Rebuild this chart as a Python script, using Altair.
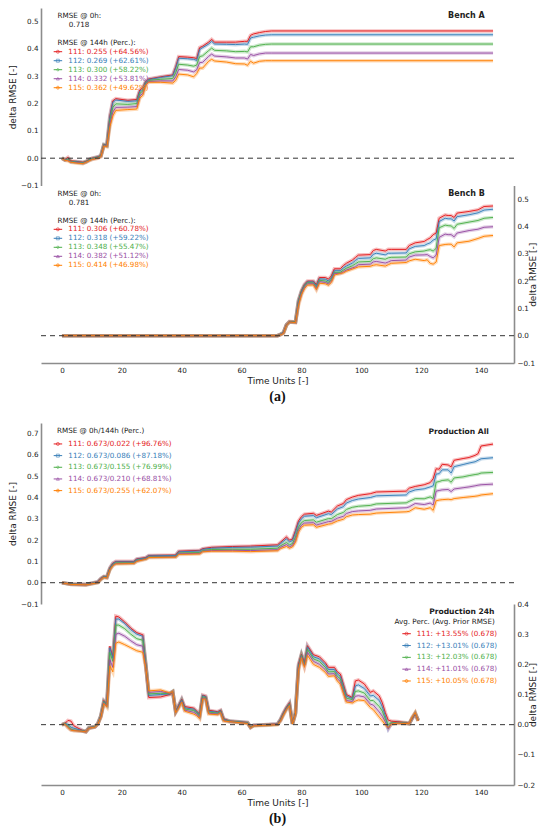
import altair as alt
import pandas as pd

# ---------------- data ----------------
series_ids = ["111", "112", "113", "114", "115"]
series_colors = ["#e41a1c", "#377eb8", "#4daf4a", "#984ea3", "#ff7f00"]
series_shapes = ["circle", "square", "diamond", "triangle-up", "cross"]

# Bench A
bench_a_t = [0, 1, 2, 3, 5, 7, 8, 9, 10, 12, 13, 14, 15, 16, 17, 18, 22, 25, 26, 27,
             28, 29, 33, 37, 38, 39, 42, 44, 45, 46, 47, 49, 50, 51, 55, 58, 61, 62, 63, 64,
             66, 68, 70, 144]
bench_a_111 = [0.0, -0.005, 0.003, -0.01, -0.012, -0.015, -0.012, -0.005, 0.0, 0.005,
               0.01, 0.05, 0.048, 0.155, 0.21, 0.218, 0.212, 0.215, 0.25, 0.258,
               0.282, 0.29, 0.298, 0.305, 0.335, 0.372, 0.37, 0.368, 0.365, 0.405,
               0.41, 0.425, 0.435, 0.425, 0.425, 0.425, 0.428, 0.428, 0.45, 0.455,
               0.46, 0.464, 0.466, 0.466]
bench_a_112 = [0.0, -0.006, -0.002, -0.012, -0.013, -0.016, -0.013, -0.006, -0.001, 0.004,
               0.009, 0.05, 0.047, 0.15, 0.205, 0.213, 0.208, 0.21, 0.245, 0.254,
               0.28, 0.288, 0.296, 0.302, 0.33, 0.366, 0.364, 0.362, 0.358, 0.398,
               0.405, 0.418, 0.428, 0.418, 0.417, 0.416, 0.418, 0.417, 0.44, 0.443,
               0.448, 0.451, 0.452, 0.452]
bench_a_113 = [0.0, -0.006, -0.003, -0.012, -0.015, -0.017, -0.013, -0.007, -0.002, 0.003,
               0.008, 0.048, 0.045, 0.137, 0.186, 0.199, 0.197, 0.2, 0.237, 0.246,
               0.276, 0.285, 0.289, 0.292, 0.313, 0.344, 0.341, 0.337, 0.341, 0.372,
               0.375, 0.394, 0.403, 0.395, 0.393, 0.39, 0.391, 0.389, 0.408, 0.408,
               0.414, 0.417, 0.418, 0.418]
bench_a_114 = [0.0, -0.007, -0.007, -0.014, -0.016, -0.019, -0.014, -0.009, -0.004, 0.001,
               0.006, 0.046, 0.044, 0.125, 0.169, 0.186, 0.187, 0.189, 0.228, 0.237,
               0.272, 0.281, 0.283, 0.283, 0.298, 0.325, 0.322, 0.316, 0.324, 0.35,
               0.351, 0.373, 0.381, 0.374, 0.371, 0.367, 0.367, 0.363, 0.38, 0.376,
               0.382, 0.385, 0.385, 0.385]
bench_a_115 = [0.0, -0.008, -0.01, -0.015, -0.018, -0.02, -0.015, -0.01, -0.005, 0.0,
               0.005, 0.045, 0.042, 0.115, 0.155, 0.175, 0.178, 0.18, 0.22, 0.23,
               0.268, 0.278, 0.278, 0.275, 0.285, 0.308, 0.305, 0.298, 0.31, 0.33,
               0.33, 0.355, 0.362, 0.356, 0.352, 0.346, 0.345, 0.34, 0.355, 0.348,
               0.355, 0.357, 0.357, 0.357]

# Bench B
bench_b_t = [0, 72, 73, 74, 75, 76, 78, 79, 80, 81, 82, 84, 85, 86, 88, 89, 90, 91, 93, 94,
             95, 97, 98, 99, 103, 104, 105, 108, 109, 110, 115, 116, 118, 121, 122, 123, 124, 125, 126, 128,
             129, 130, 131, 132, 136, 139, 141, 144]
bench_b_111 = [0.0, 0.0, 0.005, 0.012, 0.04, 0.052, 0.05, 0.13, 0.165, 0.188,
               0.2, 0.2, 0.187, 0.213, 0.213, 0.207, 0.219, 0.245, 0.245, 0.257,
               0.265, 0.277, 0.286, 0.295, 0.297, 0.312, 0.316, 0.31, 0.316, 0.316,
               0.316, 0.33, 0.34, 0.345, 0.352, 0.358, 0.37, 0.376, 0.43, 0.442,
               0.44, 0.44, 0.433, 0.449, 0.455, 0.461, 0.473, 0.475]
bench_b_112 = [0.0, 0.0, 0.005, 0.012, 0.04, 0.051, 0.05, 0.128, 0.162, 0.185,
               0.197, 0.197, 0.183, 0.208, 0.207, 0.2, 0.212, 0.238, 0.238, 0.248,
               0.255, 0.266, 0.275, 0.283, 0.285, 0.298, 0.302, 0.296, 0.302, 0.302,
               0.303, 0.318, 0.327, 0.33, 0.336, 0.34, 0.35, 0.355, 0.418, 0.43,
               0.428, 0.428, 0.42, 0.436, 0.443, 0.45, 0.46, 0.463]
bench_b_113 = [0.0, 0.0, 0.005, 0.011, 0.04, 0.05, 0.05, 0.125, 0.16, 0.182,
               0.194, 0.193, 0.178, 0.203, 0.2, 0.195, 0.206, 0.232, 0.232, 0.24,
               0.247, 0.256, 0.263, 0.27, 0.272, 0.282, 0.285, 0.28, 0.285, 0.287,
               0.288, 0.3, 0.307, 0.31, 0.313, 0.315, 0.31, 0.32, 0.395, 0.405,
               0.403, 0.402, 0.393, 0.408, 0.416, 0.422, 0.43, 0.433]
bench_b_114 = [0.0, 0.0, 0.004, 0.01, 0.04, 0.05, 0.048, 0.118, 0.155, 0.178,
               0.19, 0.19, 0.173, 0.198, 0.195, 0.19, 0.2, 0.228, 0.228, 0.234,
               0.24, 0.248, 0.252, 0.26, 0.262, 0.27, 0.272, 0.266, 0.27, 0.275,
               0.277, 0.288, 0.295, 0.296, 0.297, 0.29, 0.285, 0.295, 0.36, 0.372,
               0.37, 0.37, 0.362, 0.376, 0.385, 0.39, 0.397, 0.399]
bench_b_115 = [0.0, 0.0, 0.003, 0.008, 0.038, 0.05, 0.048, 0.11, 0.15, 0.172,
               0.185, 0.186, 0.168, 0.192, 0.19, 0.185, 0.195, 0.222, 0.228, 0.23,
               0.236, 0.244, 0.248, 0.252, 0.254, 0.258, 0.26, 0.255, 0.26, 0.265,
               0.268, 0.274, 0.28, 0.275, 0.278, 0.265, 0.262, 0.27, 0.33, 0.334,
               0.335, 0.335, 0.325, 0.34, 0.346, 0.356, 0.364, 0.367]

# Production All
prod_all_t = [0, 3, 8, 12, 13, 14, 15, 16, 17, 18,
              24, 25, 28, 29, 38, 39, 46, 47, 50, 57,
              63, 72, 73, 75, 76, 77, 78, 79, 80, 81,
              84, 85, 89, 90, 92, 94, 95, 97, 99, 103,
              105, 115, 116, 118, 121, 123, 124, 125, 126, 127,
              129, 130, 131, 134, 136, 138, 139, 140, 144]
prod_all_111 = [0.0, -0.006, -0.008, 0.005, 0.02, 0.03, 0.028, 0.07, 0.092, 0.1,
                0.1, 0.112, 0.118, 0.128, 0.13, 0.148, 0.152, 0.16, 0.166, 0.17,
                0.172, 0.178, 0.19, 0.215, 0.2, 0.205, 0.245, 0.29, 0.31, 0.322,
                0.326, 0.316, 0.336, 0.332, 0.36, 0.372, 0.39, 0.402, 0.41, 0.418,
                0.426, 0.43, 0.444, 0.452, 0.46, 0.47, 0.488, 0.535, 0.533, 0.556,
                0.553, 0.544, 0.575, 0.583, 0.588, 0.598, 0.606, 0.642, 0.651]
prod_all_112 = [0.0, -0.006, -0.008, 0.004, 0.019, 0.029, 0.027, 0.068, 0.09, 0.098,
                0.098, 0.11, 0.116, 0.126, 0.128, 0.145, 0.149, 0.157, 0.162, 0.166,
                0.167, 0.172, 0.184, 0.206, 0.192, 0.198, 0.236, 0.28, 0.3, 0.312,
                0.315, 0.305, 0.324, 0.32, 0.346, 0.357, 0.374, 0.386, 0.393, 0.4,
                0.408, 0.412, 0.426, 0.436, 0.441, 0.45, 0.455, 0.51, 0.512, 0.53,
                0.53, 0.515, 0.545, 0.555, 0.562, 0.568, 0.575, 0.582, 0.587]
prod_all_113 = [0.0, -0.007, -0.009, 0.002, 0.017, 0.027, 0.025, 0.064, 0.085, 0.093,
                0.094, 0.105, 0.113, 0.122, 0.124, 0.139, 0.142, 0.151, 0.156, 0.157,
                0.157, 0.162, 0.173, 0.189, 0.178, 0.184, 0.214, 0.26, 0.282, 0.292,
                0.295, 0.284, 0.301, 0.301, 0.32, 0.33, 0.344, 0.354, 0.359, 0.363,
                0.37, 0.375, 0.382, 0.395, 0.394, 0.403, 0.395, 0.472, 0.475, 0.48,
                0.483, 0.472, 0.492, 0.497, 0.503, 0.508, 0.51, 0.515, 0.518]
prod_all_114 = [0.0, -0.008, -0.01, 0.001, 0.016, 0.026, 0.023, 0.062, 0.082, 0.09,
                0.092, 0.102, 0.112, 0.12, 0.122, 0.136, 0.138, 0.148, 0.151, 0.152,
                0.151, 0.155, 0.166, 0.179, 0.169, 0.175, 0.2, 0.248, 0.27, 0.28,
                0.282, 0.271, 0.287, 0.288, 0.303, 0.312, 0.325, 0.334, 0.337, 0.34,
                0.346, 0.352, 0.356, 0.372, 0.367, 0.374, 0.365, 0.43, 0.433, 0.436,
                0.438, 0.428, 0.44, 0.446, 0.45, 0.455, 0.458, 0.46, 0.463]
prod_all_115 = [0.0, -0.008, -0.01, 0.0, 0.015, 0.025, 0.022, 0.06, 0.08, 0.088,
                0.09, 0.1, 0.11, 0.118, 0.12, 0.133, 0.135, 0.145, 0.148, 0.148,
                0.146, 0.15, 0.16, 0.17, 0.162, 0.168, 0.19, 0.238, 0.26, 0.27,
                0.272, 0.26, 0.275, 0.277, 0.29, 0.298, 0.31, 0.318, 0.32, 0.322,
                0.327, 0.333, 0.335, 0.352, 0.345, 0.352, 0.34, 0.385, 0.388, 0.39,
                0.392, 0.39, 0.395, 0.4, 0.403, 0.406, 0.408, 0.412, 0.418]

# Production 24h
prod_24_t = [0, 1, 2, 3, 4, 7, 8, 9, 11, 12,
             13, 14, 15, 16, 17, 18, 19, 21, 23, 25,
             27, 28, 29, 33, 36, 37, 38, 39, 40, 41,
             44, 45, 46, 47, 48, 49, 52, 53, 54, 56,
             62, 63, 64, 72, 73, 74, 75, 76, 77, 78,
             79, 80, 81, 82, 84, 86, 88, 89, 91, 92,
             93, 95, 97, 98, 99, 101, 103, 104, 106, 107,
             108, 109, 110, 112, 115, 116, 117, 118, 119]
prod_24_111 = [0.0, 0.004, 0.014, 0.012, -0.004, -0.02, -0.022, -0.01, -0.006, 0.004,
               0.03, 0.08, 0.07, 0.26, 0.225, 0.36, 0.357, 0.34, 0.32, 0.305,
               0.298, 0.2, 0.09, 0.092, 0.1, 0.108, 0.045, 0.065, 0.085, 0.06,
               0.055, 0.045, 0.035, 0.098, 0.095, 0.048, 0.043, 0.048, 0.02, 0.012,
               0.007, -0.008, -0.002, 0.002, 0.018, 0.04, 0.058, 0.073, 0.003, 0.04,
               0.2, 0.234, 0.205, 0.262, 0.232, 0.225, 0.205, 0.19, 0.19, 0.175,
               0.168, 0.1, 0.09, 0.145, 0.148, 0.135, 0.107, 0.112, 0.095, 0.073,
               0.04, 0.015, 0.012, 0.01, 0.006, 0.004, 0.02, 0.035, 0.015]
prod_24_112 = [0.0, 0.004, 0.0, -0.008, -0.012, -0.02, -0.023, -0.01, -0.006, 0.004,
               0.03, 0.078, 0.068, 0.255, 0.22, 0.35, 0.35, 0.335, 0.315, 0.3,
               0.293, 0.2, 0.097, 0.1, 0.102, 0.109, 0.044, 0.063, 0.083, 0.056,
               0.051, 0.043, 0.032, 0.096, 0.093, 0.045, 0.041, 0.046, 0.018, 0.012,
               0.007, -0.008, -0.002, 0.002, 0.017, 0.038, 0.056, 0.07, 0.003, 0.04,
               0.195, 0.232, 0.2, 0.258, 0.225, 0.218, 0.198, 0.183, 0.183, 0.168,
               0.16, 0.095, 0.087, 0.128, 0.132, 0.12, 0.095, 0.097, 0.08, 0.06,
               0.03, -0.012, 0.005, 0.008, 0.005, 0.003, 0.021, 0.036, 0.015]
prod_24_113 = [0.0, 0.003, -0.005, -0.015, -0.018, -0.021, -0.023, -0.011, -0.007, 0.003,
               0.028, 0.076, 0.065, 0.24, 0.21, 0.33, 0.33, 0.318, 0.3, 0.285,
               0.28, 0.2, 0.102, 0.104, 0.103, 0.11, 0.043, 0.06, 0.08, 0.052,
               0.047, 0.04, 0.028, 0.092, 0.09, 0.042, 0.038, 0.044, 0.016, 0.011,
               0.006, -0.009, -0.003, 0.001, 0.015, 0.036, 0.054, 0.068, 0.002, 0.038,
               0.19, 0.23, 0.198, 0.25, 0.218, 0.21, 0.19, 0.175, 0.176, 0.16,
               0.152, 0.088, 0.083, 0.11, 0.112, 0.105, 0.08, 0.08, 0.06, 0.045,
               0.02, 0.0, 0.006, 0.007, 0.005, 0.003, 0.022, 0.038, 0.014]
prod_24_114 = [0.0, 0.002, -0.008, -0.017, -0.019, -0.022, -0.024, -0.012, -0.008, 0.002,
               0.026, 0.073, 0.062, 0.215, 0.19, 0.3, 0.303, 0.293, 0.278, 0.265,
               0.26, 0.195, 0.107, 0.11, 0.104, 0.11, 0.041, 0.058, 0.078, 0.048,
               0.041, 0.035, 0.024, 0.088, 0.087, 0.038, 0.035, 0.042, 0.014, 0.01,
               0.005, -0.01, -0.003, 0.001, 0.013, 0.034, 0.052, 0.065, 0.002, 0.036,
               0.185, 0.226, 0.194, 0.24, 0.21, 0.2, 0.182, 0.168, 0.169, 0.152,
               0.143, 0.08, 0.077, 0.094, 0.096, 0.092, 0.068, 0.065, 0.042, 0.028,
               0.01, -0.014, 0.003, 0.006, 0.004, 0.003, 0.023, 0.039, 0.013]
prod_24_115 = [0.0, 0.002, -0.01, -0.018, -0.02, -0.022, -0.024, -0.012, -0.008, 0.002,
               0.025, 0.07, 0.058, 0.195, 0.175, 0.27, 0.274, 0.265, 0.255, 0.245,
               0.24, 0.19, 0.112, 0.115, 0.105, 0.11, 0.04, 0.055, 0.075, 0.045,
               0.035, 0.03, 0.02, 0.085, 0.085, 0.035, 0.033, 0.04, 0.012, 0.01,
               0.004, -0.01, -0.004, 0.0, 0.012, 0.032, 0.05, 0.063, 0.002, 0.035,
               0.18, 0.222, 0.19, 0.23, 0.2, 0.19, 0.173, 0.16, 0.162, 0.145,
               0.134, 0.075, 0.072, 0.078, 0.082, 0.08, 0.057, 0.05, 0.025, 0.013,
               0.0, -0.01, 0.002, 0.005, 0.004, 0.003, 0.025, 0.04, 0.012]

# legend / annotation texts
panel_names = ["Bench A", "Bench B", "Production All", "Production 24h"]
bench_a_labels = ["111: 0.255 (+64.56%)", "112: 0.269 (+62.61%)", "113: 0.300 (+58.22%)",
                  "114: 0.332 (+53.81%)", "115: 0.362 (+49.62%)"]
bench_b_labels = ["111: 0.306 (+60.78%)", "112: 0.318 (+59.22%)", "113: 0.348 (+55.47%)",
                  "114: 0.382 (+51.12%)", "115: 0.414 (+46.98%)"]
prod_all_labels = ["111: 0.673/0.022 (+96.76%)", "112: 0.673/0.086 (+87.18%)",
                   "113: 0.673/0.155 (+76.99%)", "114: 0.673/0.210 (+68.81%)",
                   "115: 0.673/0.255 (+62.07%)"]
prod_24_labels = ["111: +13.55% (0.678)", "112: +13.01% (0.678)", "113: +12.03% (0.678)",
                  "114: +11.01% (0.678)", "115: +10.05% (0.678)"]
bench_a_rmse0 = "0.718"
bench_b_rmse0 = "0.781"
x_ticks = [0, 20, 40, 60, 80, 100, 120, 140]

# ---------------- layout ----------------
FONT = "DejaVu Sans"
W = 473
HA = 355
HB = 362
REF_W = 485.0
REF_H = 363.0


def px(d):
    return d * W / REF_W


color_scale = alt.Scale(domain=series_ids, range=series_colors)
shape_scale = alt.Scale(domain=series_ids, range=series_shapes)
x_scale = alt.Scale(domain=[-7, 151], nice=False, zero=False)
x_axis = alt.Axis(values=x_ticks, title="Time Units [-]", format="d")


def series_df(t, vals):
    rows = []
    for sid, v in zip(series_ids, vals):
        assert len(v) == len(t), (sid, len(v), len(t))
        for ti, vi in zip(t, v):
            rows.append((sid, ti, vi))
    return pd.DataFrame(rows, columns=["s", "t", "v"])


def panel(df, domain, rng, orient, ticks):
    ys = alt.Scale(domain=domain, range=rng, nice=False, zero=False)
    ya = alt.Axis(orient=orient, values=ticks, format=".1f", title="delta RMSE [-]",
                  titleAngle=270)
    base = alt.Chart(df).encode(
        x=alt.X("t:Q", scale=x_scale, axis=x_axis),
        y=alt.Y("v:Q", scale=ys, axis=ya),
        color=alt.Color("s:N", scale=color_scale, legend=None),
        detail="s:N",
    )
    halo = base.mark_line(strokeWidth=3.6, opacity=0.28)
    line = base.mark_line(strokeWidth=1, opacity=0.95)
    zero = alt.Chart(pd.DataFrame({"z": [0.0]})).mark_rule(
        color="#333333", strokeDash=[5, 4], strokeWidth=1
    ).encode(y=alt.Y("z:Q", scale=ys, axis=ya))
    return alt.layer(halo, line, zero)


def text_line(txt, x, y, align="left", weight="normal", size=7.2):
    df = pd.DataFrame({"txt": [txt]})
    return alt.Chart(df).mark_text(
        align=align, baseline="middle", font=FONT, fontSize=size,
        fontWeight=weight, color="#222222"
    ).encode(x=alt.value(x), y=alt.value(y), text="txt:N")


def legend_block(labels, x_sym, x_txt, y0, dy):
    df = pd.DataFrame({"s": series_ids, "label": labels, "row": list(range(len(labels)))})
    base = alt.Chart(df).transform_calculate(py=f"{y0} + datum.row * {dy}")
    yenc = alt.Y("py:Q", scale=None, axis=None)
    col = alt.Color("s:N", scale=color_scale, legend=None)
    seg = base.mark_rule(strokeWidth=1).encode(
        x=alt.value(x_sym), x2=alt.value(x_sym + px(8.7)), y=yenc, color=col)
    pt = base.mark_point(size=9, strokeWidth=0.8, opacity=0.75).encode(
        x=alt.value(x_sym + px(4.3)), y=yenc, color=col,
        shape=alt.Shape("s:N", scale=shape_scale, legend=None))
    txt = base.mark_text(align="left", baseline="middle", font=FONT, fontSize=7.2).encode(
        x=alt.value(x_txt), y=yenc, text="label:N", color=col)
    return [seg, pt, txt]


def caption(txt):
    return alt.TitleParams(text=txt, orient="bottom", anchor="middle",
                           font="Liberation Serif", fontSize=14, fontWeight="bold",
                           color="#111111", offset=5)


# ---------- figure (a) ----------
H = HA


def py(d):
    return d * H / REF_H


pa = panel(series_df(bench_a_t, [bench_a_111, bench_a_112, bench_a_113, bench_a_114, bench_a_115]),
           [-0.1, 0.55], [H / 2, 0], "left", [-0.1, 0.0, 0.1, 0.2, 0.3, 0.4, 0.5])
pb = panel(series_df(bench_b_t, [bench_b_111, bench_b_112, bench_b_113, bench_b_114, bench_b_115]),
           [-0.1, 0.55], [H, H / 2], "right", [-0.1, 0.0, 0.1, 0.2, 0.3, 0.4, 0.5])

annot_a = [
    text_line("RMSE @ 0h:", px(17), py(8.3)),
    text_line(bench_a_rmse0, px(28.5), py(17.3)),
    text_line("RMSE @ 144h (Perc.):", px(17), py(35.7)),
    text_line(panel_names[0], W - px(30), py(8.3), align="right", weight="bold", size=8),
    *legend_block(bench_a_labels, px(13), px(28), py(44.7), py(9.2)),
    text_line("RMSE @ 0h:", px(17), py(189.7)),
    text_line(bench_b_rmse0, px(28.5), py(199)),
    text_line("RMSE @ 144h (Perc.):", px(17), py(217.3)),
    text_line(panel_names[1], W - px(30), py(189.7), align="right", weight="bold", size=8),
    *legend_block(bench_b_labels, px(13), px(28), py(226.3), py(9.2)),
]

fig_a = alt.layer(pa, pb, *annot_a).resolve_scale(y="independent").properties(
    width=W, height=H, title=caption("(a)"))

# ---------- figure (b) ----------
H = HB

pc = panel(series_df(prod_all_t, [prod_all_111, prod_all_112, prod_all_113, prod_all_114, prod_all_115]),
           [-0.1, 0.75], [H / 2, 0], "left", [-0.1, 0.0, 0.1, 0.2, 0.3, 0.4, 0.5, 0.6, 0.7])
pd24 = panel(series_df(prod_24_t, [prod_24_111, prod_24_112, prod_24_113, prod_24_114, prod_24_115]),
             [-0.2, 0.4], [H, H / 2], "right", [-0.2, -0.1, 0.0, 0.1, 0.2, 0.3, 0.4])

annot_b = [
    text_line("RMSE @ 0h/144h (Perc.)", px(16.4), py(8)),
    text_line(panel_names[2], W - px(25.7), py(8.7), align="right", weight="bold", size=7.6),
    *legend_block(prod_all_labels, px(13), px(28), py(21), py(11.7)),
    text_line(panel_names[3], W - px(20), py(189.3), align="right", weight="bold", size=7.6),
    text_line("Avg. Perc. (Avg. Prior RMSE)", W - px(19.7), py(199.3), align="right"),
    *legend_block(prod_24_labels, W - px(114.5), W - px(99.7), py(211.3), py(11.85)),
]

fig_b = alt.layer(pc, pd24, *annot_b).resolve_scale(y="independent").properties(
    width=W, height=H, title=caption("(b)"))

chart = alt.vconcat(fig_a, fig_b, spacing=18).properties(
    padding={"left": 0, "top": 0, "right": 0, "bottom": 0}
).configure_view(stroke=None).configure_axis(
    grid=False, ticks=False, domainColor="#8c8c8c", domainWidth=1.6,
    labelFont=FONT, labelFontSize=7.2, labelColor="#222222", labelPadding=3,
    titleFont=FONT, titleFontSize=9, titleFontWeight="normal", titleColor="#222222",
    titlePadding=3,
)

chart.save("out.html", embed_options={"renderer": "svg", "actions": False})
